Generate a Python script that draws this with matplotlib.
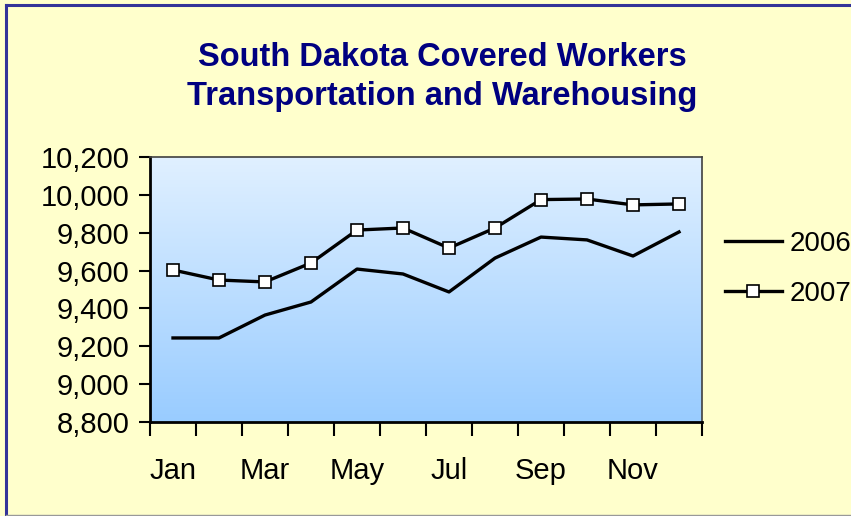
import numpy as np
import matplotlib.pyplot as plt
from matplotlib.lines import Line2D
from matplotlib.colors import LinearSegmentedColormap

plt.rcParams['font.family'] = ['Liberation Sans', 'DejaVu Sans']

months = ['Jan', 'Feb', 'Mar', 'Apr', 'May', 'Jun', 'Jul', 'Aug', 'Sep', 'Oct', 'Nov', 'Dec']
y2006 = [9244, 9244, 9365, 9434, 9608, 9582, 9487, 9666, 9777, 9762, 9677, 9804]
y2007 = [9603, 9550, 9540, 9640, 9814, 9825, 9719, 9825, 9975, 9978, 9947, 9952]
yticks = [8800, 9000, 9200, 9400, 9600, 9800, 10000, 10200]

fig = plt.figure(figsize=(8.51, 5.16), dpi=100)
fig.patch.set_facecolor('#FFFFCC')

# frame around the chart area
fig.add_artist(Line2D([6/851, 6/851], [0.0, 1 - 5/516], transform=fig.transFigure, color='#333399', lw=2.2))
fig.add_artist(Line2D([6/851, 1.0], [1 - 5/516, 1 - 5/516], transform=fig.transFigure, color='#333399', lw=2.2))
fig.add_artist(Line2D([6/851, 1.0], [1/516, 1/516], transform=fig.transFigure, color='#999999', lw=1))

ax = fig.add_axes([150/851, 1 - 422/516, 552/851, 265/516])

# vertical gradient background
grad = np.linspace(0, 1, 256).reshape(-1, 1)
cmap = LinearSegmentedColormap.from_list('bg', ['#99CCFF', '#E0F0FF'])
ax.imshow(grad, aspect='auto', cmap=cmap, origin='lower',
          extent=[0, 12, 8800, 10200], zorder=0)

x = np.arange(len(months)) + 0.5
ax.plot(x, y2006, color='black', lw=2.4, label='2006', zorder=3)
ax.plot(x, y2007, color='black', lw=2.4, marker='s', markersize=8,
        markerfacecolor='white', markeredgecolor='black', markeredgewidth=1.2,
        label='2007', zorder=3)

ax.set_xlim(0, 12)
ax.set_ylim(8800, 10200)
ax.set_yticks(yticks)
ax.set_yticklabels([f'{v:,}' for v in yticks], fontsize=21)
ax.set_xticks(np.arange(13))
ax.set_xticklabels([])
ax.set_xticks(x[::2], minor=True)
ax.set_xticklabels(months[::2], minor=True, fontsize=21)
ax.tick_params(axis='x', which='major', direction='out', length=10, width=1.5)
ax.tick_params(axis='x', which='minor', length=0, pad=25)
ax.tick_params(axis='y', direction='out', length=8, width=1.5, pad=7)

for s in ['left', 'bottom']:
    ax.spines[s].set_linewidth(2)
    ax.spines[s].set_color('black')
for s in ['top', 'right']:
    ax.spines[s].set_linewidth(1.2)
    ax.spines[s].set_color('#404040')

fig.text(442/851, 1 - 77/516, 'South Dakota Covered Workers\nTransportation and Warehousing',
         ha='center', va='center', fontsize=23.5, fontweight='bold', color='#000080',
         linespacing=1.33)

fig.legend(loc='center left', bbox_to_anchor=(725/851, 1 - 269/516), frameon=False,
           fontsize=20, handlelength=2.05, handletextpad=0.28, labelspacing=0.85,
           borderpad=0, borderaxespad=0)

fig.savefig('out.png', dpi=100, facecolor=fig.get_facecolor())
